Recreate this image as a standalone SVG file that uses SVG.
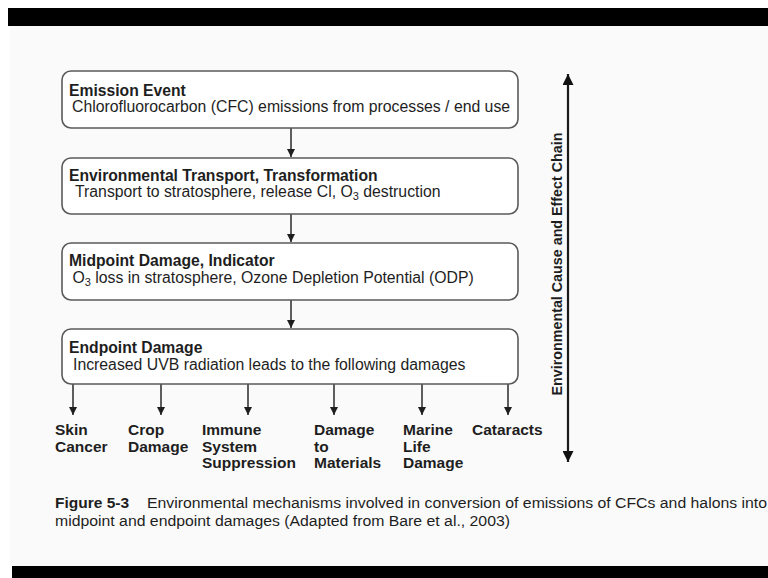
<svg xmlns="http://www.w3.org/2000/svg" width="768" height="578" viewBox="0 0 768 578">
  <defs>
    <style>
      .box { fill: #ffffff; stroke: #5a5a5a; stroke-width: 1.6; }
      .ttl { font-family: "Liberation Sans", Arial, sans-serif; font-weight: bold; font-size: 15.7px; fill: #1e1e1e; }
      .sub { font-family: "Liberation Sans", Arial, sans-serif; font-size: 15.8px; fill: #1e1e1e; }
      .lbl { font-family: "Liberation Sans", Arial, sans-serif; font-weight: bold; font-size: 15.5px; fill: #1e1e1e; }
      .side { font-family: "Liberation Sans", Arial, sans-serif; font-weight: bold; font-size: 14.3px; fill: #1e1e1e; }
      .cap { font-family: "Liberation Sans", Arial, sans-serif; font-size: 15.5px; fill: #1e1e1e; }
      .capb { font-family: "Liberation Sans", Arial, sans-serif; font-weight: bold; font-size: 15.5px; fill: #1e1e1e; }
      .line { stroke: #2a2a2a; stroke-width: 1.5; fill: none; }
      .dbl { stroke: #1a1a1a; stroke-width: 2.2; fill: none; }
    </style>
    <marker id="ah" viewBox="0 0 10 10" refX="10" refY="5" markerWidth="8" markerHeight="8" markerUnits="userSpaceOnUse" orient="auto">
      <path d="M0,0 L10,5 L0,10 z" fill="#1e1e1e"/>
    </marker>
    <marker id="ahd" viewBox="0 0 10 10" refX="10" refY="5" markerWidth="11" markerHeight="11" markerUnits="userSpaceOnUse" orient="auto-start-reverse">
      <path d="M0,0 L10,5 L0,10 z" fill="#111"/>
    </marker>
  </defs>

  <!-- frame -->
  <rect x="0" y="0" width="768" height="578" fill="#ffffff"/>
  <rect x="10" y="26" width="758" height="540" fill="#fafafa"/>
  <rect x="8" y="8" width="760" height="18" fill="#000"/>
  <rect x="12" y="566" width="756" height="12" fill="#000"/>

  <g id="connectors">
    <line class="line" x1="291" y1="128" x2="291" y2="157" marker-end="url(#ah)"/>
    <line class="line" x1="291" y1="214" x2="291" y2="242" marker-end="url(#ah)"/>
    <line class="line" x1="291" y1="300" x2="291" y2="328" marker-end="url(#ah)"/>
    <line class="line" x1="73" y1="384" x2="73" y2="415" marker-end="url(#ah)"/>
    <line class="line" x1="161" y1="384" x2="161" y2="415" marker-end="url(#ah)"/>
    <line class="line" x1="248" y1="384" x2="248" y2="415" marker-end="url(#ah)"/>
    <line class="line" x1="334" y1="384" x2="334" y2="415" marker-end="url(#ah)"/>
    <line class="line" x1="422" y1="384" x2="422" y2="415" marker-end="url(#ah)"/>
    <line class="line" x1="508" y1="384" x2="508" y2="415" marker-end="url(#ah)"/>
    <line class="dbl" x1="568" y1="74" x2="568" y2="462" marker-start="url(#ahd)" marker-end="url(#ahd)"/>
  </g>

  <g id="emission">
    <rect class="box" x="62" y="71" width="456" height="57" rx="9"/>
    <text class="ttl" x="69" y="96">Emission Event</text>
    <text class="sub" x="72" y="112">Chlorofluorocarbon (CFC) emissions from processes / end use</text>
  </g>

  <g id="transport">
    <rect class="box" x="62" y="158" width="456" height="56" rx="9"/>
    <text class="ttl" x="69" y="181">Environmental Transport, Transformation</text>
    <text class="sub" x="75" y="197">Transport to stratosphere, release Cl, O<tspan font-size="11px" dy="3">3</tspan><tspan dy="-3"> destruction</tspan></text>
  </g>

  <g id="midpoint">
    <rect class="box" x="62" y="243" width="456" height="57" rx="9"/>
    <text class="ttl" x="69" y="266">Midpoint Damage, Indicator</text>
    <text class="sub" x="72.5" y="283">O<tspan font-size="11px" dy="3">3</tspan><tspan dy="-3"> loss in stratosphere, Ozone Depletion Potential (ODP)</tspan></text>
  </g>

  <g id="endpoint">
    <rect class="box" x="62" y="329" width="456" height="55" rx="9"/>
    <text class="ttl" x="69" y="353">Endpoint Damage</text>
    <text class="sub" x="73" y="370">Increased UVB radiation leads to the following damages</text>
  </g>

  <g id="skin-cancer">
    <text class="lbl" x="55" y="435">Skin<tspan x="55" dy="16.5">Cancer</tspan></text>
  </g>
  <g id="crop-damage">
    <text class="lbl" x="128" y="435">Crop<tspan x="128" dy="16.5">Damage</tspan></text>
  </g>
  <g id="immune">
    <text class="lbl" x="202" y="435">Immune<tspan x="202" dy="16.5">System</tspan><tspan x="202" dy="16.5">Suppression</tspan></text>
  </g>
  <g id="materials">
    <text class="lbl" x="314" y="435">Damage<tspan x="314" dy="16.5">to</tspan><tspan x="314" dy="16.5">Materials</tspan></text>
  </g>
  <g id="marine">
    <text class="lbl" x="403" y="435">Marine<tspan x="403" dy="16.5">Life</tspan><tspan x="403" dy="16.5">Damage</tspan></text>
  </g>
  <g id="cataracts">
    <text class="lbl" x="472" y="435">Cataracts</text>
  </g>

  <g id="chain-label">
    <text class="side" transform="translate(562,264) rotate(-90)" text-anchor="middle">Environmental Cause and Effect Chain</text>
  </g>

  <g id="caption">
    <text class="capb" x="55" y="508">Figure 5-3</text>
    <text class="cap" x="147" y="508" textLength="620" lengthAdjust="spacingAndGlyphs">Environmental mechanisms involved in conversion of emissions of CFCs and halons into</text>
    <text class="cap" x="55" y="526" textLength="455" lengthAdjust="spacingAndGlyphs">midpoint and endpoint damages (Adapted from Bare et al., 2003)</text>
  </g>
</svg>
